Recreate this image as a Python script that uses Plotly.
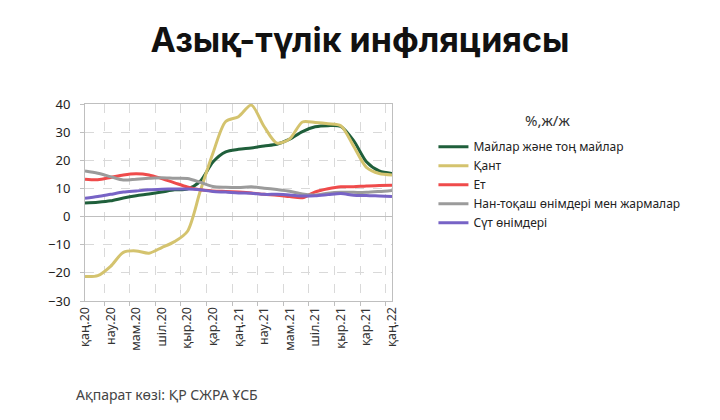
import plotly.graph_objects as go

# Months (Kazakh abbreviations), Jan 2020 .. Jan 2022
months = ['қаң.20', 'ақп.20', 'нау.20', 'сәу.20', 'мам.20', 'мау.20', 'шіл.20', 'там.20',
          'қыр.20', 'қаз.20', 'қар.20', 'жел.20',
          'қаң.21', 'ақп.21', 'нау.21', 'сәу.21', 'мам.21', 'мау.21', 'шіл.21', 'там.21',
          'қыр.21', 'қаз.21', 'қар.21', 'жел.21',
          'қаң.22']

# % y/y
oils = [4.8, 5.1, 5.6, 6.6, 7.4, 8.0, 8.7, 9.5, 9.8, 12.5, 19.4, 23.0, 23.9, 24.4, 25.1,
        25.7, 27.5, 30.2, 31.9, 32.3, 32.0, 27.0, 19.5, 16.2, 15.3]
sugar = [-21.3, -21.0, -17.7, -12.7, -12.2, -13.0, -11.0, -8.9, -5.3, 8.9, 22.5, 33.8, 35.5,
         39.6, 32.0, 26.1, 27.6, 33.6, 33.4, 33.0, 32.3, 25.0, 17.5, 15.3, 14.8]
meat = [13.3, 13.1, 13.9, 14.8, 15.2, 14.8, 13.5, 12.0, 10.5, 9.5, 9.1, 8.9, 8.7, 8.4, 7.9,
        7.6, 7.1, 6.7, 8.8, 9.9, 10.6, 10.6, 10.9, 11.0, 11.1]
bread = [16.2, 15.4, 14.2, 13.0, 13.3, 13.6, 13.8, 13.6, 13.5, 12.2, 10.7, 10.4, 10.3, 10.6,
         10.1, 9.6, 9.0, 8.0, 7.7, 8.3, 8.6, 8.6, 8.6, 8.9, 9.3]
dairy = [6.5, 7.1, 7.9, 8.7, 9.1, 9.5, 9.7, 9.8, 9.8, 9.5, 8.9, 8.7, 8.4, 8.3, 7.9, 7.9, 7.7,
         7.3, 7.4, 7.8, 8.2, 7.6, 7.5, 7.3, 7.1]

series = [
    ('Майлар және тоң майлар', oils, '#1f5f3b'),
    ('Қант', sugar, '#d4c36e'),
    ('Ет', meat, '#ef4b4b'),
    ('Нан-тоқаш өнімдері мен жармалар', bread, '#9b9b9b'),
    ('Сүт өнімдері', dairy, '#7763c6'),
]

fig = go.Figure()
for name, vals, color in series:
    fig.add_trace(go.Scatter(
        x=months, y=vals, name=name, mode='lines',
        line=dict(color=color, width=3, shape='spline', smoothing=0.8),
    ))

grid = '#d9d9d9'
axis_col = '#bfbfbf'

fig.update_layout(
    width=720, height=420,
    margin=dict(l=85, r=328, t=104, b=119),
    paper_bgcolor='white', plot_bgcolor='white',
    font=dict(family='Noto Sans', color='#333333'),
    title=dict(text='<b>Азық-түлік инфляциясы</b>', x=0.5, xref='container',
               y=0.905, yref='container', yanchor='middle',
               font=dict(family='Inter', size=34, color='#111111')),
    legend=dict(x=1.135, xanchor='left', y=0.59, yanchor='middle',
                font=dict(size=12, color='#222222'), itemwidth=30,
                bgcolor='rgba(0,0,0,0)'),
    showlegend=True,
)

fig.update_xaxes(
    type='category', dtick=2, tickson='boundaries',
    tickangle=-90, tickfont=dict(size=12.5, color='#333333'),
    showgrid=True, gridcolor=grid, griddash='dash',
    ticks='outside', ticklen=4, tickcolor=axis_col,
    showline=True, linecolor=axis_col, mirror=True,
)
fig.update_yaxes(
    range=[-30, 40], dtick=10,
    tickfont=dict(size=13, color='#222222'), ticklabelstandoff=7,
    showgrid=True, gridcolor=grid, griddash='dash',
    zeroline=True, zerolinecolor=axis_col, zerolinewidth=1,
    ticks='outside', ticklen=4, tickcolor=axis_col,
    showline=True, linecolor=axis_col, mirror=True,
)

fig.add_annotation(text='%,ж/ж', xref='paper', yref='paper', x=1.508, xanchor='center',
                   y=0.919, yanchor='middle', showarrow=False,
                   font=dict(size=15, color='#333333'))
fig.add_annotation(text='Ақпарат көзі: ҚР СЖРА ҰСБ', xref='paper', yref='paper',
                   x=-0.035, xanchor='left', y=-0.475, yanchor='middle',
                   showarrow=False, font=dict(size=14, color='#444444'))

# drop the default 8px page margin so the figure sits at the window's corner
fig.write_html('out.html', config={'displayModeBar': False},
               post_script="document.body.style.margin='0px';")
